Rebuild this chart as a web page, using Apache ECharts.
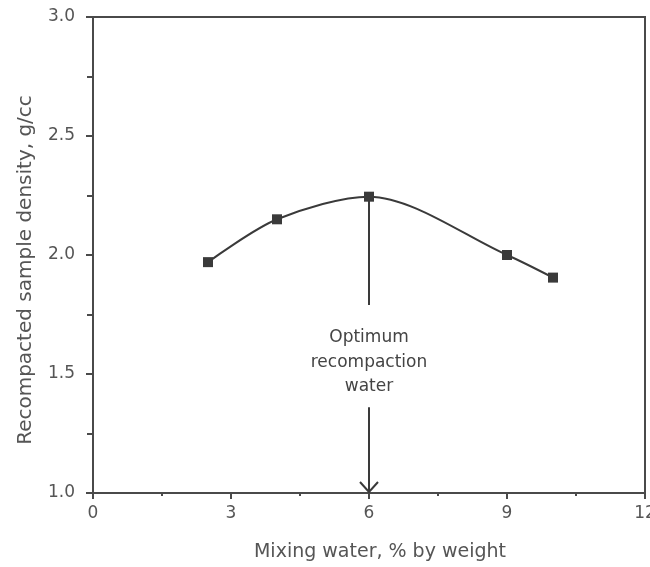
<!DOCTYPE html>
<html>
<head>
<meta charset="utf-8">
<script src="https://cdn.jsdelivr.net/npm/echarts@6/dist/echarts.min.js"></script>
<style>
html,body{margin:0;padding:0;background:#fff;}
#chart{width:650px;height:567px;}
</style>
</head>
<body>
<div id="chart"></div>
<script>
// Data
var mixingWater = [2.5, 4.0, 6.0, 9.0, 10.0];
var density = [1.97, 2.15, 2.245, 2.0, 1.905];
var xTicks = [0, 3, 6, 9, 12];
var yTicks = [1.0, 1.5, 2.0, 2.5, 3.0];
var optimumX = [6];
var leaderRange = [1.79, 2.245];   // vertical line below the peak
var arrowRange = [1.0, 1.36];      // arrow down to the x axis
var annotationY = [1.55];
var annotationText = ['Optimum\nrecompaction\nwater'];

var FONT = 'DejaVu Sans';
var chart = echarts.init(document.getElementById('chart'), null, {renderer: 'canvas'});

var points = mixingWater.map(function (x, i) { return [x, density[i]]; });

chart.setOption({
  backgroundColor: '#ffffff',
  animation: false,
  grid: {left: 93, top: 17, width: 552, height: 476, show: true, containLabel: false,
         outerBoundsMode: 'none',
         borderColor: '#4a4a4a', borderWidth: 2, backgroundColor: 'transparent'},
  xAxis: {
    type: 'value', min: xTicks[0], max: xTicks[xTicks.length - 1], interval: 3,
    name: 'Mixing water, % by weight', nameLocation: 'middle', nameGap: 50,
    nameTextStyle: {fontFamily: FONT, fontSize: 19, color: '#555', padding: [0, 0, 0, 22]},
    axisLine: {show: true, lineStyle: {color: '#4a4a4a', width: 2}},
    axisTick: {show: true, length: 6, lineStyle: {color: '#4a4a4a', width: 2}},
    minorTick: {show: true, splitNumber: 2, length: 3, lineStyle: {color: '#4a4a4a', width: 2}},
    axisLabel: {fontFamily: FONT, fontSize: 17, color: '#555', margin: 12},
    splitLine: {show: false}
  },
  yAxis: {
    type: 'value', min: yTicks[0], max: yTicks[yTicks.length - 1], interval: 0.5,
    name: 'Recompacted sample density, g/cc', nameLocation: 'middle', nameGap: 57,
    nameTextStyle: {fontFamily: FONT, fontSize: 20, color: '#555', padding: [0, 30, 0, 0]},
    axisLine: {show: true, lineStyle: {color: '#4a4a4a', width: 2}},
    axisTick: {show: true, length: 7, lineStyle: {color: '#4a4a4a', width: 2}},
    minorTick: {show: true, splitNumber: 2, length: 6, lineStyle: {color: '#4a4a4a', width: 2}},
    axisLabel: {fontFamily: FONT, fontSize: 17, color: '#555', margin: 18,
                formatter: function (v) { return v.toFixed(1); }},
    splitLine: {show: false}
  },
  series: [
    {
      type: 'line', data: points, smooth: 0.3,
      symbol: 'rect', symbolSize: 10,
      lineStyle: {color: '#3a3a3a', width: 2},
      itemStyle: {color: '#3a3a3a'},
      z: 3
    },
    {
      type: 'custom',
      data: [[optimumX[0], leaderRange[0], leaderRange[1], arrowRange[0], arrowRange[1], annotationY[0]]],
      renderItem: function (params, api) {
        var x = api.value(0);
        var l0 = api.coord([x, api.value(1)]);
        var l1 = api.coord([x, api.value(2)]);
        var a0 = api.coord([x, api.value(3)]);
        var a1 = api.coord([x, api.value(4)]);
        var t = api.coord([x, api.value(5)]);
        var stroke = {stroke: '#3a3a3a', lineWidth: 2, fill: null};
        return {
          type: 'group',
          children: [
            {type: 'line', shape: {x1: l0[0], y1: l0[1], x2: l1[0], y2: l1[1]}, style: stroke},
            {type: 'line', shape: {x1: a1[0], y1: a1[1], x2: a0[0], y2: a0[1]}, style: stroke},
            {type: 'polyline', shape: {points: [[a0[0] - 9, a0[1] - 11], [a0[0], a0[1] - 1], [a0[0] + 9, a0[1] - 11]]}, style: stroke},
            {type: 'text', x: t[0], y: t[1],
             style: {text: annotationText[0], fontFamily: FONT, fontSize: 17, fill: '#444',
                     align: 'center', verticalAlign: 'middle', lineHeight: 24.5}}
          ]
        };
      },
      z: 4
    }
  ]
});
</script>
</body>
</html>
